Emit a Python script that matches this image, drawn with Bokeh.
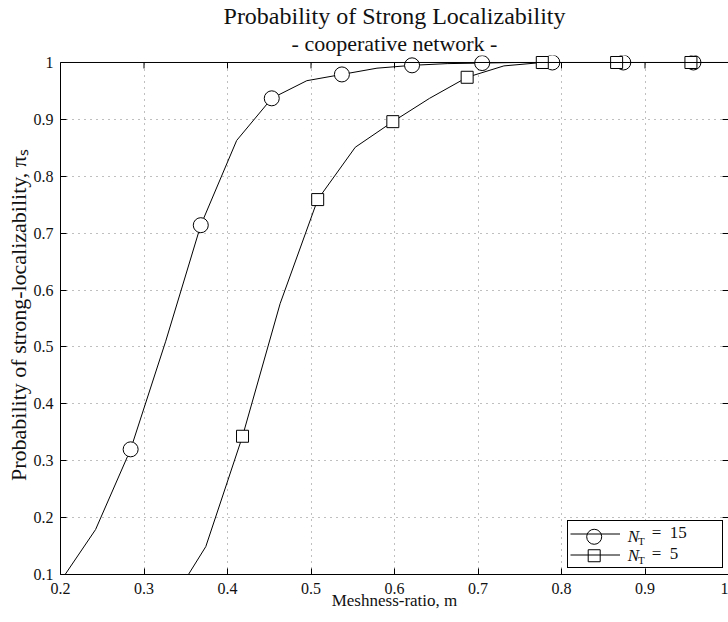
from bokeh.plotting import figure
from bokeh.models import (LinearAxis, Span, BoxAnnotation, Legend, LegendItem,
                          FixedTicker, Range1d, Title)
from bokeh.core.properties import value
from bokeh.embed import file_html
from bokeh.resources import INLINE

# ---------------- data ----------------
meshness_nt15 = [0.200, 0.242, 0.284, 0.326, 0.368, 0.411, 0.453, 0.495, 0.537, 0.579,
                 0.621, 0.663, 0.705, 0.747, 0.789, 0.832, 0.874, 0.916, 0.958, 1.000]
prob_nt15 = [0.088, 0.179, 0.320, 0.510, 0.714, 0.863, 0.937, 0.968, 0.979, 0.990,
             0.995, 0.998, 0.999, 1.000, 1.000, 1.000, 1.000, 1.000, 1.000, 1.000]

meshness_nt5 = [0.329, 0.374, 0.418, 0.463, 0.508, 0.553, 0.598, 0.642, 0.687, 0.731,
                0.777, 0.821, 0.866, 0.910, 0.955, 1.000]
prob_nt5 = [0.043, 0.149, 0.343, 0.576, 0.759, 0.851, 0.896, 0.937, 0.974, 0.994,
            1.000, 1.000, 1.000, 1.000, 1.000, 1.000]

x_ticks = [0.2, 0.3, 0.4, 0.5, 0.6, 0.7, 0.8, 0.9, 1.0]
x_tick_labels = ["0.2", "0.3", "0.4", "0.5", "0.6", "0.7", "0.8", "0.9", "1"]
y_ticks = [0.1, 0.2, 0.3, 0.4, 0.5, 0.6, 0.7, 0.8, 0.9, 1.0]
y_tick_labels = ["0.1", "0.2", "0.3", "0.4", "0.5", "0.6", "0.7", "0.8", "0.9", "1"]

title_text = "Probability of Strong Localizability"
subtitle_text = "- cooperative network -"
x_label_text = "Meshness-ratio, m"
y_label_text = "Probability of strong-localizability, \u03c0\u209b"
legend_values = ["15", "5"]

SERIF = "Liberation Serif"
TXT = "#111111"
PX = 570.0                       # pixels per unit on the y axis
TOP_PAD = 7.0 / PX               # keeps the markers at y = 1 whole

main_title = Title(text=title_text, align="center", text_font=SERIF, text_font_size="24px",
                   text_font_style="normal", text_color=TXT, standoff=0)
p = figure(width=728, height=622, x_range=Range1d(0.2, 1.0),
           y_range=Range1d(0.1, 1.0 + TOP_PAD), title=main_title,
           output_backend="svg", toolbar_location=None,
           min_border_left=60, min_border_right=0, min_border_top=54, min_border_bottom=48)
p.outline_line_color = None
p.background_fill_color = "white"
p.border_fill_color = "white"

sub_title = Title(text=subtitle_text, align="center", text_font=SERIF, text_font_size="22px",
                  text_font_style="normal", text_color=TXT, standoff=0)
p.add_layout(sub_title, "above")

xt = FixedTicker(ticks=x_ticks)
yt = FixedTicker(ticks=y_ticks)

xax = p.xaxis[0]
xax.ticker = xt
xax.major_label_overrides = {t: l for t, l in zip(x_ticks, x_tick_labels)}
yax = p.yaxis[0]
yax.ticker = yt
yax.bounds = (0.1, 1.0)
yax.major_label_overrides = {t: l for t, l in zip(y_ticks, y_tick_labels)}
for ax in (xax, yax):
    ax.major_tick_in = 6
    ax.major_tick_out = 0
    ax.minor_tick_line_color = None
    ax.axis_line_color = "black"
    ax.major_tick_line_color = "black"
    ax.major_label_text_font = SERIF
    ax.major_label_text_font_size = "16px"
    ax.major_label_text_color = TXT
    ax.axis_label_text_font = SERIF
    ax.axis_label_text_font_style = "normal"
    ax.axis_label_text_color = TXT
xax.axis_label_text_font_size = "17px"
yax.axis_label_text_font_size = "22px"
xax.major_label_standoff = 8
yax.major_label_standoff = 7
xax.axis_label = x_label_text
yax.axis_label = y_label_text
xax.axis_label_standoff = -6
yax.axis_label_standoff = 0

ry = LinearAxis(ticker=yt, bounds=(0.1, 1.0), major_tick_in=6, major_tick_out=0,
                minor_tick_line_color=None, axis_line_color="black",
                major_label_overrides={t: "" for t in y_ticks},
                major_label_text_font_size="1px", major_label_standoff=0)
p.add_layout(ry, "right")

p.xgrid.ticker = xt
p.ygrid.ticker = yt
for g in (p.xgrid, p.ygrid):
    g.grid_line_color = "#000000"
    g.grid_line_alpha = 0.5
    g.grid_line_dash = "1 5"
    g.grid_line_width = 1

# hide grid above the top border, draw the top border and its inward ticks
p.add_layout(BoxAnnotation(bottom=1.0, fill_color="white", fill_alpha=1.0,
                           line_color=None, level="underlay"))
p.add_layout(Span(location=1.0, dimension="width", line_color="black", line_width=1))
p.segment(x0=x_ticks, y0=[1.0] * len(x_ticks), x1=x_ticks,
          y1=[1.0 - 6.0 / PX] * len(x_ticks), line_color="black", line_width=1)

l15 = p.line(meshness_nt15, prob_nt15, line_color="black", line_width=1)
s15 = p.scatter(meshness_nt15[2::2], prob_nt15[2::2], marker="circle", size=15,
                fill_color="white", line_color="black", line_width=1)
l5 = p.line(meshness_nt5, prob_nt5, line_color="black", line_width=1)
s5 = p.scatter(meshness_nt5[2::2], prob_nt5[2::2], marker="square", size=12,
               fill_color="white", line_color="black", line_width=1)

# ---------------- legend ----------------
# pixel coordinate system of the frame, for the legend's own symbols
p.extra_x_ranges = {"lx": Range1d(0, 668)}
p.extra_y_ranges = {"ly": Range1d(0, 520)}
LEG_LEFT, LEG_BOTTOM, LEG_W, LEG_H = 506.7, 6.3, 154, 44
p.add_layout(BoxAnnotation(left=LEG_LEFT, right=LEG_LEFT + LEG_W, bottom=LEG_BOTTOM,
                           top=LEG_BOTTOM + LEG_H, x_range_name="lx", y_range_name="ly",
                           fill_color="white", fill_alpha=1.0, line_color=None,
                           level="underlay"))

leg = Legend(items=[LegendItem(label="=\u2002" + legend_values[0], renderers=[l15]),
                    LegendItem(label="=\u2002" + legend_values[1], renderers=[l5])],
             location=(LEG_LEFT, LEG_BOTTOM), padding=2, spacing=-2, margin=0,
             glyph_width=50, glyph_height=21, label_height=21, label_width=68,
             label_standoff=32, label_text_font=SERIF, label_text_font_size="17px",
             label_text_color=TXT, border_line_color="black", border_line_width=1,
             border_line_alpha=1.0, background_fill_alpha=0.0)
p.add_layout(leg)

row_y = [37.8, 18.8]
leg_marker_x = [533.7]
p.scatter(leg_marker_x, [row_y[0]], marker="circle", size=15, fill_color="white",
          line_color="black", line_width=1, x_range_name="lx", y_range_name="ly")
p.scatter(leg_marker_x, [row_y[1]], marker="square", size=12, fill_color="white",
          line_color="black", line_width=1, x_range_name="lx", y_range_name="ly")

# legend symbol N_T (text glyphs in the frame's pixel system)
p.text(x=[567.3, 567.3], y=row_y, text=["N", "N"], x_range_name="lx", y_range_name="ly",
       text_font=value(SERIF), text_font_style="italic", text_font_size="17px",
       text_color=TXT, text_baseline="middle", text_align="left")
p.text(x=[577.5, 577.5], y=[v - 4 for v in row_y], text=["T", "T"],
       x_range_name="lx", y_range_name="ly",
       text_font=value(SERIF), text_font_size="11px",
       text_color=TXT, text_baseline="middle", text_align="left")

open("out.html", "w").write(file_html(p, INLINE))
